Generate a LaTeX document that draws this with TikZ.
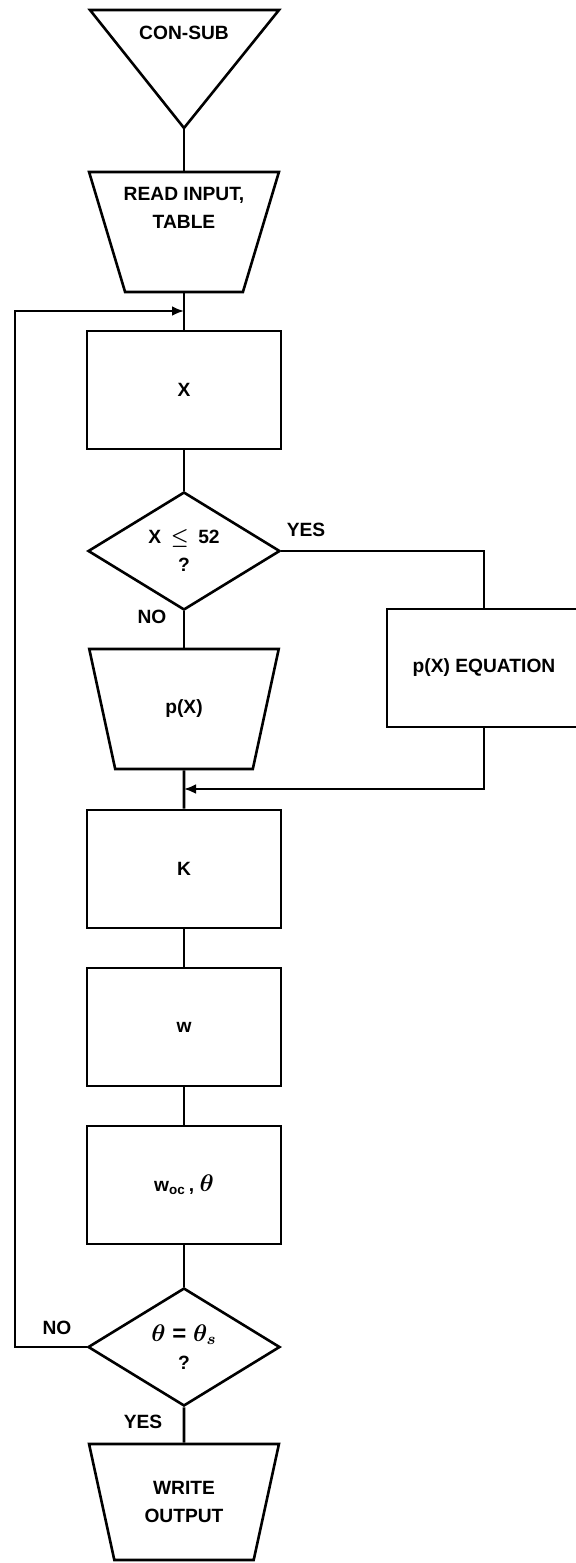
\documentclass[tikz,border=0pt]{standalone}
\usepackage{fontspec}
\setmainfont{Liberation Sans}
\usetikzlibrary{shapes.geometric,arrows.meta}

\begin{document}
\begin{tikzpicture}[x=0.5pt, y=-0.5pt, line width=1.3pt,
    every node/.style={font=\fontsize{9.6}{14}\selectfont\bfseries\boldmath, align=center},
    box/.style={draw, rectangle, minimum width=97pt, minimum height=59pt},
    decide/.style={draw, diamond, inner sep=0pt, minimum width=96pt, minimum height=59pt},
    manual/.style={draw, trapezium, shape border rotate=180, trapezium angle=73,
        trapezium stretches=true, minimum width=95pt, minimum height=60pt},
    flow/.style={-{Latex[length=6pt,width=5pt]}}]
    \useasboundingbox (0,0) rectangle (575,1563);

    % 1. start: inverted triangle and input block
    \node (consub) at (184,33) {CON-SUB};
    \coordinate (consubtip) at (184,128);
    \draw (90,10) -- (279,10) -- (consubtip) -- cycle;
    \node[manual] (read) at (184,232) {};
    \node (readtext) at (184,208) {READ INPUT,\\TABLE};

    % 2. loop body
    \node[box] (xbox) at (184,390) {X};
    \node[decide] (test) at (184,551) {X\enspace$\le$\enspace52\\?};
    \node[manual] (px) at (184,709) {p(X)};
    \node[box] (eqn) at (484,668) {p(X) EQUATION};
    \node[box] (kbox) at (184,869) {K};
    \node[box] (wbox) at (184,1027) {w};
    \node[box] (wocbox) at (184,1185) {w\textsubscript{oc}\,, \large$\theta$};
    \node[decide] (conv) at (184,1347) {\large$\theta$ = $\theta_{s}$\\?};
    \node[manual, minimum height=58pt] (write) at (184,1502) {WRITE\\OUTPUT};

    % 3. branch labels
    \node (yes1) at (306,530) {YES};
    \node (no1) at (152,617) {NO};
    \node (no2) at (57,1328) {NO};
    \node (yes2) at (143,1422) {YES};

    % 4. connectors
    \coordinate (loopin) at (184,311);
    \coordinate (loopx) at (15,0);
    \coordinate (merge) at (184,789);
    \draw (consubtip) -- (read);
    \draw (read) -- (xbox);
    \draw (xbox) -- (test);
    \draw (test) -- (px);
    \draw (test.east) -| (eqn.north);
    \draw[flow] (eqn.south) |- (merge);
    \draw (px) -- (kbox);
    \draw (kbox) -- (wbox);
    \draw (wbox) -- (wocbox);
    \draw (wocbox) -- (conv);
    \draw (conv) -- (write);
    \draw[flow] (conv.west) -- (conv.west -| loopx) |- (loopin);
\end{tikzpicture}
\end{document}
